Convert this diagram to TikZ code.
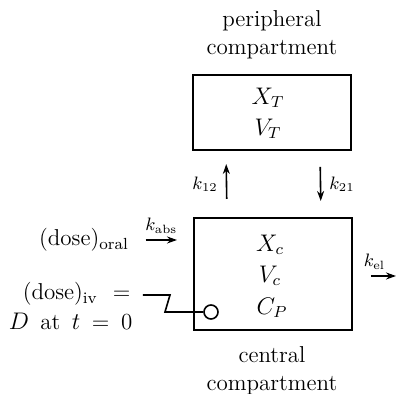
\documentclass[tikz,border=0pt]{standalone}
\usepackage{amsmath}
\usetikzlibrary{arrows.meta, positioning}

\begin{document}
\begin{tikzpicture}[x=0.5pt, y=-0.5pt, >={Stealth[length=5pt, width=3.5pt]}, line width=0.8pt,
    font=\fontsize{11.5}{14}\selectfont,
    compbox/.style={draw, line width=1pt, minimum width=79pt, minimum height=37.5pt, inner sep=0pt},
    compbig/.style={compbox, minimum height=56pt},
    rate/.style={font=\fontsize{9}{10}\selectfont, inner sep=1pt},
    plain/.style={inner sep=0pt}]
    \useasboundingbox (0,0) rectangle (404,394);

    % compartments
    \node[compbox] (peri) at (272,112.5) {};
    \node[compbig] (central) at (273,274) {};

    \node[plain, align=center] (perilabel) at (272,35) {peripheral\\compartment};
    \node[plain, align=center] (centrallabel) at (272,371) {central\\compartment};

    \node[plain] (xt) at (268,98) {$X_T$};
    \node[plain] (vt) at (268,129) {$V_T$};
    \node[plain] (xc) at (270,245) {$X_c$};
    \node[plain] (vc) at (270,276) {$V_c$};
    \node[plain] (cp) at (272,308) {$C_P$};

    % inputs
    \node[plain] (oral) at (84,240) {(dose)$_{\text{oral}}$};
    \node[plain, anchor=west] (iv) at (22,294) {(dose)$_{\text{iv}}$\ \ =};
    \node[plain, anchor=west] (tzero) at (8,322) {$D$\enspace at\enspace $t$\enspace =\enspace 0};
    \node[draw, circle, minimum size=7pt, inner sep=0pt] (inj) at (211,312) {};
    \coordinate (ivstart) at (143,295);
    \coordinate (out) at (396,276);

    \draw[->, shorten <=8pt, shorten >=8pt] (oral.east) -- (oral.east -| central.west)
        node[rate, midway, above=2pt] (kabs) {$k_{\text{abs}}$};
    \draw (ivstart) -- ++(27,0) -- ++(-5,17) -- (inj.west);

    % exchange
    \draw[->, shorten <=9pt, shorten >=6.5pt] ([xshift=-23pt]central.north) -- ([xshift=-23pt]peri.south)
        node[rate, midway, left=3pt] (k12) {$k_{12}$};
    \draw[->, shorten <=8pt, shorten >=8pt] ([xshift=24pt]peri.south) -- ([xshift=24pt]central.north)
        node[rate, midway, right=3pt] (k21) {$k_{21}$};

    % elimination
    \draw[->, shorten <=9pt] (central.east |- out) -- (out)
        node[rate, midway, above=2pt] (kel) {$k_{\text{el}}$};
\end{tikzpicture}
\end{document}
